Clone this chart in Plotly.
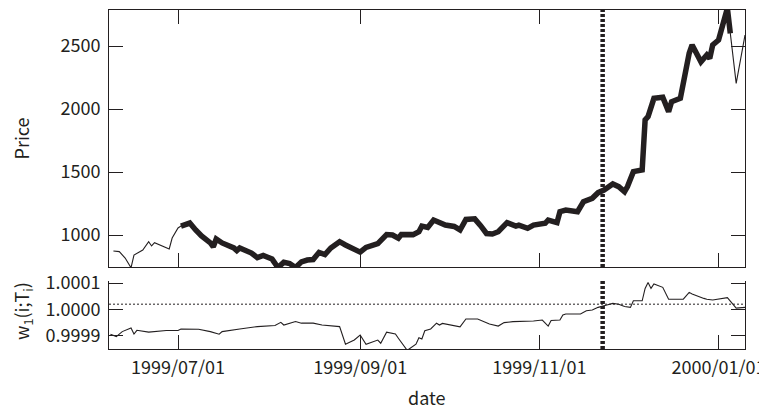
import plotly.graph_objects as go

# ---------------- data ----------------
price_dates = [
    "1999-06-09", "1999-06-11", "1999-06-13", "1999-06-15", "1999-06-16", "1999-06-19",
    "1999-06-21", "1999-06-22", "1999-06-23", "1999-06-28", "1999-06-29", "1999-07-01",
    "1999-07-02", "1999-07-05", "1999-07-07", "1999-07-09", "1999-07-12", "1999-07-13",
    "1999-07-14", "1999-07-16", "1999-07-20", "1999-07-21", "1999-07-22", "1999-07-26",
    "1999-07-28", "1999-07-30", "1999-08-02", "1999-08-04", "1999-08-06", "1999-08-08",
    "1999-08-10", "1999-08-12", "1999-08-14", "1999-08-16", "1999-08-18", "1999-08-20",
    "1999-08-22", "1999-08-25", "1999-08-27", "1999-08-30", "1999-09-01", "1999-09-03",
    "1999-09-07", "1999-09-10", "1999-09-12", "1999-09-14", "1999-09-15", "1999-09-19",
    "1999-09-21", "1999-09-22", "1999-09-24", "1999-09-26", "1999-09-29", "1999-09-30",
    "1999-10-03", "1999-10-05", "1999-10-07", "1999-10-10", "1999-10-12", "1999-10-14",
    "1999-10-16", "1999-10-18", "1999-10-21", "1999-10-24", "1999-10-25", "1999-10-28",
    "1999-10-30", "1999-11-03", "1999-11-04", "1999-11-07", "1999-11-08", "1999-11-10",
    "1999-11-14", "1999-11-16", "1999-11-19", "1999-11-21", "1999-11-23", "1999-11-26",
    "1999-11-28", "1999-11-30", "1999-12-01", "1999-12-03", "1999-12-06", "1999-12-07",
    "1999-12-08", "1999-12-10", "1999-12-13", "1999-12-15", "1999-12-16", "1999-12-19",
    "1999-12-22", "1999-12-23", "1999-12-26", "1999-12-28", "1999-12-29", "1999-12-30",
    "2000-01-01", "2000-01-03", "2000-01-04", "2000-01-05", "2000-01-07", "2000-01-10",
]
price_vals = [
    873, 868, 817, 740, 841, 881,
    947, 913, 939, 889, 976, 1056,
    1071, 1095, 1040, 992, 937, 907,
    968, 937, 897, 876, 897, 857,
    820, 838, 809, 742, 783, 774,
    742, 787, 801, 805, 862, 845,
    897, 947, 921, 881, 864, 902,
    932, 1004, 1000, 975, 1004, 1003,
    1026, 1071, 1060, 1119, 1093, 1079,
    1068, 1040, 1124, 1128, 1074, 1012,
    1008, 1026, 1098, 1071, 1079, 1053,
    1079, 1093, 1119, 1098, 1185, 1198,
    1185, 1264, 1291, 1336, 1357, 1405,
    1384, 1344, 1384, 1503, 1516, 1913,
    1939, 2085, 2093, 1979, 2058, 2085,
    2442, 2508, 2375, 2429, 2402, 2508,
    2548, 2700, 2800, 2600, 2204, 2587,
]

w_dates = [
    "1999-06-08", "1999-06-10", "1999-06-12", "1999-06-15", "1999-06-16", "1999-06-17",
    "1999-06-21", "1999-06-27", "1999-07-01", "1999-07-02", "1999-07-08", "1999-07-12",
    "1999-07-15", "1999-07-16", "1999-07-22", "1999-07-28", "1999-08-03", "1999-08-05",
    "1999-08-06", "1999-08-10", "1999-08-12", "1999-08-16", "1999-08-19", "1999-08-25",
    "1999-08-27", "1999-08-30", "1999-09-01", "1999-09-03", "1999-09-07", "1999-09-08",
    "1999-09-10", "1999-09-13", "1999-09-14", "1999-09-17", "1999-09-20", "1999-09-21",
    "1999-09-22", "1999-09-23", "1999-09-25", "1999-09-27", "1999-09-28", "1999-09-29",
    "1999-10-05", "1999-10-07", "1999-10-11", "1999-10-15", "1999-10-18", "1999-10-20",
    "1999-10-23", "1999-10-25", "1999-10-30", "1999-11-02", "1999-11-04", "1999-11-05",
    "1999-11-08", "1999-11-09", "1999-11-10", "1999-11-15", "1999-11-17", "1999-11-19",
    "1999-11-21", "1999-11-24", "1999-11-26", "1999-11-28", "1999-11-30", "1999-12-02",
    "1999-12-03", "1999-12-06", "1999-12-07", "1999-12-08", "1999-12-09", "1999-12-10",
    "1999-12-13", "1999-12-15", "1999-12-20", "1999-12-22", "1999-12-23", "1999-12-27",
    "1999-12-28", "1999-12-30", "2000-01-01", "2000-01-04", "2000-01-07", "2000-01-10",
]
w_vals = [
    0.999906, 0.999897, 0.999916, 0.999930, 0.999907, 0.999921,
    0.999914, 0.999920, 0.999920, 0.999926, 0.999925, 0.999916,
    0.999906, 0.999916, 0.999926, 0.999935, 0.999939, 0.999951,
    0.999941, 0.999954, 0.999948, 0.999948, 0.999941, 0.999935,
    0.999868, 0.999884, 0.999903, 0.999868, 0.999884, 0.999872,
    0.999914, 0.999907, 0.999891, 0.999845, 0.999868, 0.999893,
    0.999888, 0.999919, 0.999926, 0.999948, 0.999941, 0.999947,
    0.999934, 0.999964, 0.999964, 0.999945, 0.999937, 0.999950,
    0.999954, 0.999954, 0.999956, 0.999960, 0.999937, 0.999958,
    0.999960, 0.999979, 0.999983, 0.999983, 0.999995, 0.999998,
    1.000008, 1.000017, 1.000023, 1.000020, 1.000011, 1.000008,
    1.000033, 1.000033, 1.000080, 1.000102, 1.000080, 1.000097,
    1.000084, 1.000039, 1.000039, 1.000065, 1.000059, 1.000042,
    1.000039, 1.000036, 1.000039, 1.000045, 1.000005, 1.000008,
]

thick_start = "1999-07-02"
thick_end = "2000-01-05"
split_date = "1999-11-22 13:00"
w_ref = 1.00002

x_tick_vals = ["1999-07-01", "1999-09-01", "1999-11-01", "2000-01-01"]
x_tick_text = ["1999/07/01", "1999/09/01", "1999/11/01", "2000/01/01"]
price_tick_vals = [1000, 1500, 2000, 2500]
w_tick_vals = [0.9999, 1.0000, 1.0001]
w_tick_text = ["0.9999", "1.0000", "1.0001"]

price_title = "Price"
w_title = "w<sub>1</sub>(i;T<sub>i</sub>)"
x_title = "date"

# ---------------- figure ----------------
ink = "#231f20"
font_family = "Noto Sans CJK JP"
font_size = 18
x_range = ["1999-06-07 12:00", "2000-01-10"]

thick_x = [d for d in price_dates if thick_start <= d <= thick_end]
thick_y = [v for d, v in zip(price_dates, price_vals) if thick_start <= d <= thick_end]

fig = go.Figure()
fig.add_trace(go.Scatter(x=price_dates, y=price_vals, mode="lines",
                         line=dict(color=ink, width=1.1), xaxis="x", yaxis="y",
                         showlegend=False))
fig.add_trace(go.Scatter(x=thick_x, y=thick_y, mode="lines",
                         line=dict(color=ink, width=5.5), xaxis="x", yaxis="y",
                         showlegend=False))
fig.add_trace(go.Scatter(x=w_dates, y=w_vals, mode="lines",
                         line=dict(color=ink, width=1.1), xaxis="x2", yaxis="y2",
                         showlegend=False))

# vertical dashed split line in both panels
fig.add_shape(type="line", xref="x", yref="y domain", x0=split_date, x1=split_date,
              y0=0, y1=1, line=dict(color=ink, width=4.5, dash="3px,2px"))
fig.add_shape(type="line", xref="x2", yref="y2 domain", x0=split_date, x1=split_date,
              y0=0, y1=1, line=dict(color=ink, width=4.5, dash="3px,2px"))
# horizontal dotted reference line in bottom panel
fig.add_shape(type="line", xref="x2 domain", yref="y2", x0=0, x1=1,
              y0=w_ref, y1=w_ref, line=dict(color=ink, width=1, dash="2px,2px"))

# axis titles
title_font = dict(family=font_family, size=font_size, color=ink)
fig.add_annotation(text=price_title, xref="x domain", yref="y domain", x=0, y=0.5,
                   xshift=-88, textangle=-90, showarrow=False, font=title_font,
                   xanchor="center", yanchor="middle")
fig.add_annotation(text=w_title, xref="x2 domain", yref="y2 domain", x=0, y=0.5,
                   xshift=-86, yshift=4, textangle=-90, showarrow=False,
                   font=title_font, xanchor="center", yanchor="middle")
fig.add_annotation(text=x_title, xref="x2 domain", yref="y2 domain", x=0.5, y=0,
                   yshift=-48, showarrow=False, font=title_font,
                   xanchor="center", yanchor="middle")

axis_common = dict(showline=True, linecolor=ink, linewidth=1, ticks="inside",
                   ticklen=14, tickwidth=1, tickcolor=ink, showgrid=False,
                   zeroline=False, automargin=False)

# the page body has an 8px default margin, so the figure is sized to fit
fig.update_layout(
    width=759, height=402,
    margin=dict(l=101, r=22, t=2, b=61),
    paper_bgcolor="white", plot_bgcolor="white",
    font=dict(family=font_family, size=font_size, color=ink),
    xaxis=dict(domain=[0, 1], anchor="y", type="date", range=x_range,
               tickvals=x_tick_vals, showticklabels=False, mirror="allticks",
               **axis_common),
    yaxis=dict(domain=[0.2419, 1], anchor="x", range=[746, 2786],
               tickvals=price_tick_vals, mirror="allticks", ticklabelstandoff=4,
               **axis_common),
    xaxis2=dict(domain=[0, 1], anchor="y2", type="date", range=x_range,
                tickvals=x_tick_vals, ticktext=x_tick_text, ticklabelstandoff=2,
                **axis_common),
    yaxis2=dict(domain=[0, 0.2006], anchor="x2", range=[0.99985, 1.000108],
                tickvals=w_tick_vals, ticktext=w_tick_text, mirror="ticks",
                ticklabelstandoff=4, **axis_common),
)

fig.write_html("out.html")
